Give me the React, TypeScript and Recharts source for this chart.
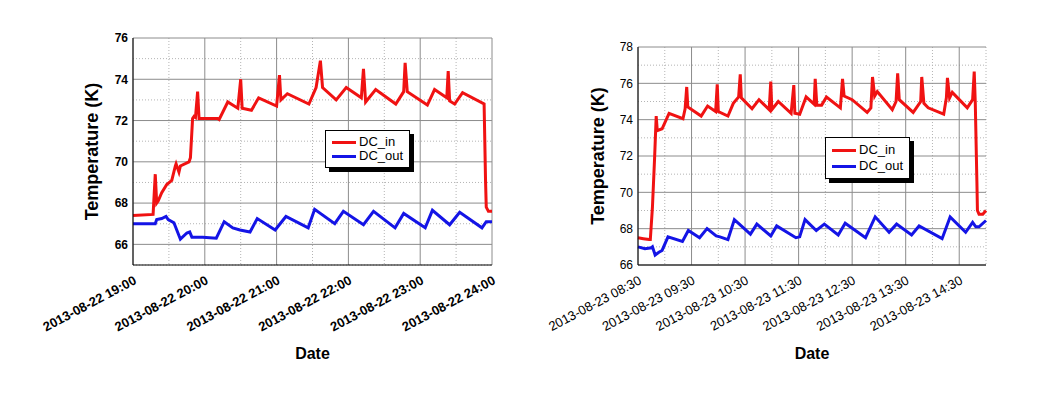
import { LineChart, Line, XAxis, YAxis, CartesianGrid, Legend, Label } from 'recharts';

const FONT = 'Arial, "Liberation Sans", sans-serif';
const RED = '#f01212';
const BLUE = '#1414e6';

// evening run, 2013-08-22 (x = hour of day)
const eveTicks = [19, 20, 21, 22, 23, 24];
const eveTickLabels = ['2013-08-22 19:00', '2013-08-22 20:00', '2013-08-22 21:00', '2013-08-22 22:00', '2013-08-22 23:00', '2013-08-22 24:00'];
const eveMinorX = [19.5, 20.5, 21.5, 22.5, 23.5];
const eveMajorY = [66, 68, 70, 72, 74, 76];
const eveMinorY = [65, 67, 69, 71, 73, 75];

const eveIn: [number, number][] = [
  [19.0, 67.4], [19.28, 67.45], [19.31, 69.4], [19.33, 68.0], [19.35, 68.1], [19.4, 68.5],
  [19.47, 68.9], [19.54, 69.1], [19.59, 69.8], [19.6, 69.9], [19.64, 69.5], [19.66, 69.8],
  [19.78, 70.0], [19.8, 70.2], [19.83, 72.1], [19.85, 72.2], [19.87, 72.15], [19.9, 73.4],
  [19.92, 72.1], [20.18, 72.1], [20.2, 72.05], [20.32, 72.9], [20.46, 72.6], [20.5, 74.0],
  [20.52, 72.6], [20.65, 72.5], [20.75, 73.1], [21.0, 72.7], [21.04, 74.2], [21.06, 73.0],
  [21.15, 73.3], [21.45, 72.8], [21.55, 73.6], [21.61, 74.9], [21.64, 73.6], [21.83, 73.0],
  [21.97, 73.6], [22.18, 73.1], [22.21, 74.5], [22.24, 72.9], [22.38, 73.5], [22.66, 72.8],
  [22.77, 73.4], [22.79, 74.8], [22.82, 73.4], [23.1, 72.75], [23.2, 73.5], [23.37, 73.1],
  [23.39, 74.4], [23.41, 72.95], [23.48, 72.8], [23.59, 73.35], [23.89, 72.8], [23.91, 69.1],
  [23.92, 67.8], [23.95, 67.6], [24.0, 67.6],
];

const eveOut: [number, number][] = [
  [19.0, 67.0], [19.31, 67.0], [19.33, 67.2], [19.4, 67.25], [19.46, 67.35], [19.49, 67.2],
  [19.57, 67.05], [19.66, 66.25], [19.75, 66.55], [19.79, 66.6], [19.82, 66.35], [19.97, 66.35],
  [20.16, 66.3], [20.27, 67.1], [20.39, 66.8], [20.49, 66.7], [20.63, 66.6], [20.73, 67.25],
  [20.98, 66.7], [21.13, 67.35], [21.44, 66.8], [21.53, 67.7], [21.81, 67.0], [21.93, 67.6],
  [22.21, 66.95], [22.35, 67.6], [22.65, 66.8], [22.77, 67.5], [23.07, 66.8], [23.17, 67.65],
  [23.41, 66.95], [23.55, 67.55], [23.86, 66.8], [23.92, 67.1], [24.0, 67.1],
];

// day run, 2013-08-23
const dayTicks = [8.5, 9.5, 10.5, 11.5, 12.5, 13.5, 14.5];
const dayTickLabels = ['2013-08-23 08:30', '2013-08-23 09:30', '2013-08-23 10:30', '2013-08-23 11:30', '2013-08-23 12:30', '2013-08-23 13:30', '2013-08-23 14:30'];
const dayMinorX = [9, 10, 11, 12, 13, 14, 15];
const dayMajorY = [66, 68, 70, 72, 74, 76, 78];
const dayMinorY = [67, 69, 71, 73, 75, 77];

const dayIn: [number, number][] = [
  [8.5, 67.5], [8.6, 67.45], [8.71, 67.4], [8.73, 67.4], [8.77, 69.2], [8.81, 71.9],
  [8.84, 74.2], [8.86, 73.4], [8.95, 73.5], [9.08, 74.35], [9.34, 74.05], [9.38, 74.6],
  [9.41, 75.8], [9.43, 74.7], [9.68, 74.2], [9.8, 74.75], [9.95, 74.45], [9.98, 75.95],
  [10.0, 74.45], [10.18, 74.2], [10.28, 74.9], [10.38, 75.25], [10.41, 76.5], [10.43, 75.2],
  [10.63, 74.6], [10.76, 75.1], [10.95, 74.55], [10.98, 76.1], [11.0, 74.55], [11.12, 75.0],
  [11.36, 74.35], [11.41, 75.9], [11.43, 74.35], [11.52, 74.3], [11.64, 75.25], [11.79, 74.85],
  [11.81, 76.25], [11.84, 74.8], [11.93, 74.8], [12.02, 75.25], [12.28, 74.65], [12.32, 76.25],
  [12.35, 75.3], [12.5, 75.1], [12.78, 74.4], [12.85, 74.65], [12.88, 76.35], [12.92, 75.3],
  [12.97, 75.55], [13.25, 74.55], [13.32, 75.0], [13.35, 76.55], [13.38, 75.1], [13.64, 74.4],
  [13.78, 75.0], [13.8, 76.35], [13.84, 74.9], [13.92, 74.65], [14.21, 74.3], [14.26, 75.2],
  [14.28, 76.3], [14.32, 75.2], [14.37, 75.5], [14.65, 74.65], [14.75, 75.1], [14.78, 76.65],
  [14.8, 74.9], [14.83, 70.6], [14.84, 69.0], [14.87, 68.8], [14.94, 68.8], [15.0, 69.0],
];

const dayOut: [number, number][] = [
  [8.5, 67.0], [8.63, 66.9], [8.75, 66.95], [8.77, 67.0], [8.82, 66.55], [8.89, 66.7],
  [8.95, 66.8], [9.06, 67.55], [9.33, 67.3], [9.44, 67.9], [9.65, 67.5], [9.79, 68.0],
  [9.96, 67.6], [10.03, 67.55], [10.18, 67.4], [10.3, 68.5], [10.6, 67.7], [10.72, 68.25],
  [10.98, 67.6], [11.09, 68.15], [11.45, 67.5], [11.52, 67.55], [11.62, 68.5], [11.83, 67.9],
  [11.98, 68.25], [12.24, 67.65], [12.37, 68.3], [12.75, 67.5], [12.93, 68.65], [13.19, 67.8],
  [13.33, 68.25], [13.61, 67.65], [13.75, 68.15], [14.18, 67.45], [14.33, 68.65], [14.62, 67.8],
  [14.75, 68.35], [14.81, 68.1], [14.87, 68.1], [15.0, 68.45],
];

const toRows = (pts: [number, number][]) => pts.map(([t, v]) => ({ t, v }));
const sorted = (a: number[], b: number[]) => [...a, ...b].sort((x, y) => x - y);
const blank = () => '';

const LegendBox = ({ payload, rowH }: any) => (
  <div
    style={{
      background: '#fff',
      border: '1px solid #000',
      boxShadow: '4px 4px 0 #000',
      padding: '4px 6px',
      fontFamily: FONT,
      fontSize: 13,
      lineHeight: `${rowH}px`,
      color: '#000',
    }}
  >
    {(payload || []).map((e: any) => (
      <div key={e.value} style={{ display: 'flex', alignItems: 'center', whiteSpace: 'nowrap' }}>
        <span style={{ display: 'inline-block', width: 24, height: 3, background: e.color, marginRight: 3 }} />
        {e.value}
      </div>
    ))}
  </div>
);

function Panel(p: any) {
  const tickStyle = { fontSize: 13, fontFamily: FONT, fontWeight: p.bold ? 'bold' : 'normal', fill: '#000' };
  const yTitle = (props: any) => {
    const vb = props.viewBox;
    const cx = vb.x + p.titleDx;
    const cy = vb.y + vb.height / 2 + p.titleDy;
    return (
      <text x={cx} y={cy} transform={`rotate(-90 ${cx} ${cy})`} textAnchor="middle" dominantBaseline="central"
        style={{ fontFamily: FONT, fontSize: 18, fontWeight: 'bold', fill: '#000' }}>
        Temperature (K)
      </text>
    );
  };
  const xTitle = (props: any) => {
    const vb = props.viewBox;
    return (
      <text x={vb.x + vb.width / 2} y={vb.y + vb.height + 8} textAnchor="middle" dominantBaseline="central"
        style={{ fontFamily: FONT, fontSize: 16, fontWeight: 'bold', fill: '#000' }}>
        Date
      </text>
    );
  };
  return (
    <div style={{ position: 'absolute', left: p.left, top: 0 }}>
      <LineChart width={p.width} height={407} margin={p.margin}>
        <CartesianGrid verticalValues={p.minorX} horizontalValues={p.minorY} stroke="#b4b4b4" strokeDasharray="1 2" />
        <CartesianGrid verticalValues={p.ticks} horizontalValues={p.majorY} stroke="#8c8c8c" />
        <XAxis
          dataKey="t"
          type="number"
          domain={p.xDomain}
          ticks={p.ticks}
          interval={0}
          tickFormatter={(v: number) => p.tickLabels[p.ticks.indexOf(v)]}
          angle={-28}
          textAnchor="end"
          tick={tickStyle}
          tickLine={false}
          tickSize={0}
          tickMargin={10}
          height={80}
          axisLine={{ stroke: '#000' }}
        >
          <Label content={xTitle} />
        </XAxis>
        <XAxis
          xAxisId="top"
          orientation="top"
          type="number"
          domain={p.xDomain}
          ticks={sorted(p.ticks, p.minorX)}
          interval={0}
          mirror
          tickFormatter={blank}
          tickSize={4}
          tickLine={{ stroke: '#000' }}
          height={0}
          axisLine={{ stroke: '#000' }}
        />
        <YAxis
          type="number"
          domain={p.yDomain}
          ticks={p.majorY}
          interval={0}
          tick={{ ...tickStyle, fontSize: 12 }}
          tickLine={false}
          tickSize={0}
          tickMargin={5}
          width={40}
          axisLine={{ stroke: '#000' }}
        >
          <Label content={yTitle} />
        </YAxis>
        <YAxis
          yAxisId="right"
          orientation="right"
          type="number"
          domain={p.yDomain}
          ticks={sorted(p.majorY, p.minorY)}
          interval={0}
          mirror
          tickFormatter={blank}
          tickSize={4}
          tickLine={{ stroke: '#000' }}
          width={0}
          axisLine={{ stroke: '#000' }}
        />
        <Legend
          layout="vertical"
          align="center"
          verticalAlign="middle"
          content={(lp: any) => <LegendBox payload={lp.payload} rowH={p.rowH} />}
          wrapperStyle={{ left: p.legendLeft, top: p.legendTop, width: 'auto', height: 'auto' }}
        />
        <Line data={toRows(p.inPts)} dataKey="v" name="DC_in" type="linear" stroke={RED} strokeWidth={3} dot={false} activeDot={false} isAnimationActive={false} />
        <Line data={toRows(p.outPts)} dataKey="v" name="DC_out" type="linear" stroke={BLUE} strokeWidth={3} dot={false} activeDot={false} isAnimationActive={false} />
      </LineChart>
    </div>
  );
}

export default function App() {
  return (
    <div style={{ position: 'absolute', left: 0, top: 0, width: 1062, height: 407, background: '#fff' }}>
      <Panel
        left={0}
        width={530}
        margin={{ top: 38, right: 38, bottom: 62, left: 93 }}
        xDomain={[19, 24]}
        ticks={eveTicks}
        tickLabels={eveTickLabels}
        minorX={eveMinorX}
        yDomain={[65, 76]}
        majorY={eveMajorY}
        minorY={eveMinorY}
        inPts={eveIn}
        outPts={eveOut}
        bold
        titleDx={-1}
        titleDy={0}
        legendLeft={325}
        legendTop={130}
        rowH={14}
      />
      <Panel
        left={530}
        width={532}
        margin={{ top: 47, right: 76, bottom: 62, left: 68 }}
        xDomain={[8.5, 15]}
        ticks={dayTicks}
        tickLabels={dayTickLabels}
        minorX={dayMinorX}
        yDomain={[66, 78]}
        majorY={dayMajorY}
        minorY={dayMinorY}
        inPts={dayIn}
        outPts={dayOut}
        bold={false}
        titleDx={0}
        titleDy={0}
        legendLeft={295}
        legendTop={137}
        rowH={16}
      />
    </div>
  );
}
